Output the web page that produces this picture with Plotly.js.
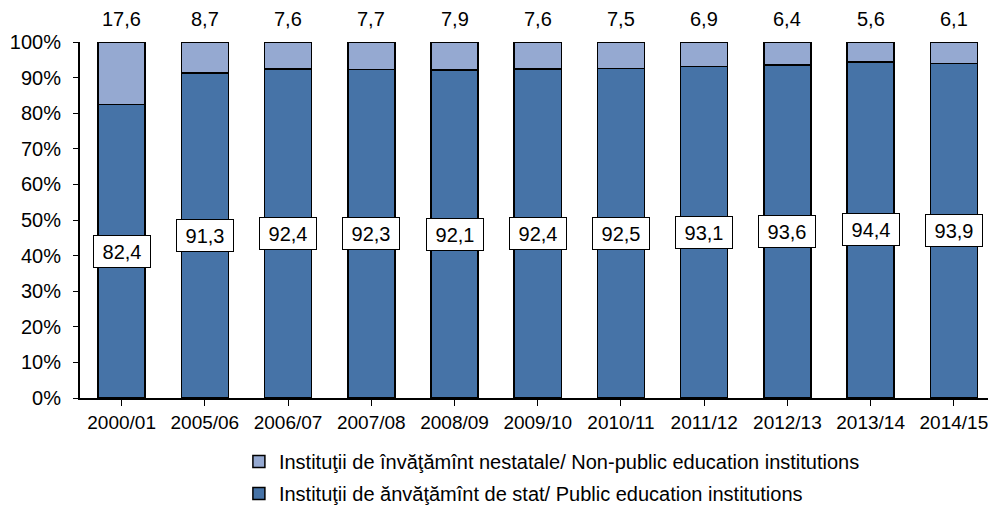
<!DOCTYPE html>
<html>
<head>
<meta charset="utf-8">
<script src="https://cdn.plot.ly/plotly-3.0.1.min.js"></script>
<style>html,body{margin:0;padding:0;background:#fff;}#chart{width:988px;height:505px;}</style>
</head>
<body>
<div id="chart"></div>
<script>
const years = ["2000/01","2005/06","2006/07","2007/08","2008/09","2009/10","2010/11","2011/12","2012/13","2013/14","2014/15"];
const publicShare = [82.4, 91.3, 92.4, 92.3, 92.1, 92.4, 92.5, 93.1, 93.6, 94.4, 93.9];
const nonPublicShare = [17.6, 8.7, 7.6, 7.7, 7.9, 7.6, 7.5, 6.9, 6.4, 5.6, 6.1];
const publicName = "Instituţii de ănvăţămînt de stat/ Public education institutions";
const nonPublicName = "Instituţii de învăţămînt nestatale/ Non-public education institutions";
const yTicks = [0,10,20,30,40,50,60,70,80,90,100];

const fmt = v => v.toFixed(1).replace('.', ',');
const FONT = "Liberation Sans, Arial, sans-serif";

const traces = [
  {type:'bar', x: years, y: publicShare, name: publicName, legendgroup:'a', legendrank:2,
   marker:{color:'#4673A7', line:{color:'#000', width:1.5}}, width:0.565, hoverinfo:'y'},
  {type:'bar', x: years, y: nonPublicShare, name: nonPublicName, legendgroup:'b', legendrank:1,
   marker:{color:'#95A9D1', line:{color:'#000', width:1.5}}, width:0.565, hoverinfo:'y'}
];

const annotations = [];
years.forEach((yr, i) => {
  annotations.push({x: yr, y: publicShare[i] / 2, xref:'x', yref:'y', text: fmt(publicShare[i]),
    showarrow:false, bgcolor:'#fff', bordercolor:'#000', borderwidth:1, borderpad:4, width:48, height:23,
    font:{family:FONT, size:20, color:'#000'}});
  annotations.push({x: yr, y: publicShare[i] + nonPublicShare[i], xref:'x', yref:'y', text: fmt(nonPublicShare[i]),
    showarrow:false, yanchor:'middle', yshift:23,
    font:{family:FONT, size:20, color:'#000'}});
});

const layout = {
  width:988, height:505,
  margin:{l:80, r:0, t:42, b:107},
  paper_bgcolor:'#fff', plot_bgcolor:'#fff',
  barmode:'stack',
  font:{family:FONT, size:19, color:'#000'},
  xaxis:{type:'category', range:[-0.5, 10.41], showline:true, linecolor:'#000', linewidth:2,
    ticks:'outside', ticklen:6, tickwidth:1, tickcolor:'#000', showgrid:false, zeroline:false,
    automargin:false, ticklabelstandoff:0, tickfont:{family:FONT, size:19, color:'#000'}},
  yaxis:{range:[0,100], tickvals:yTicks, ticktext:yTicks.map(v => v + '%'), showline:true, linecolor:'#000', linewidth:2,
    ticks:'outside', ticklen:5, tickwidth:1, tickcolor:'#000', showgrid:false, zeroline:false,
    automargin:false, ticklabelstandoff:8, tickfont:{family:FONT, size:20, color:'#000'}},
  showlegend:true,
  legend:{orientation:'v', x:0.175, xanchor:'left', yref:'container', y:0.125, yanchor:'top', traceorder:'grouped',
    tracegroupgap:3, font:{family:FONT, size:20, color:'#000'}, bgcolor:'rgba(0,0,0,0)'},
  annotations: annotations
};

Plotly.newPlot('chart', traces, layout, {displayModeBar:false, staticPlot:true});
</script>
</body>
</html>
